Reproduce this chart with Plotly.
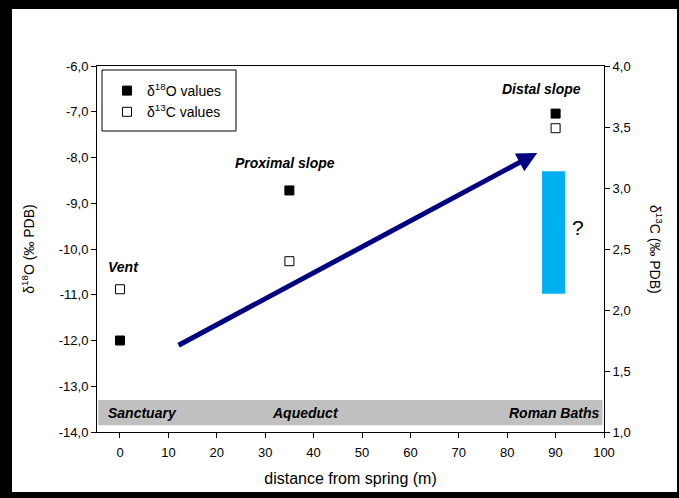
import plotly.graph_objects as go

distance = [0, 35, 90]
d18O = [-12.0, -8.72, -7.04]
d13C = [2.17, 2.40, 3.49]

site_labels = ["Sanctuary", "Aqueduct", "Roman Baths"]
site_x = [4.7, 38.4, 89.6]
zone_labels = ["Vent", "Proximal slope", "Distal slope"]
zone_x = [0.7, 34.1, 87.0]
zone_y = [-10.4, -8.12, -6.5]

y1_ticks = [-14, -13, -12, -11, -10, -9, -8, -7, -6]
y2_ticks = [1.0, 1.5, 2.0, 2.5, 3.0, 3.5, 4.0]
x_ticks = list(range(0, 101, 10))

FONT = "Liberation Sans, Arial, sans-serif"

fig = go.Figure()
fig.add_trace(go.Scatter(
    x=distance, y=d18O, mode="markers", name="δ<sup>18</sup>O values",
    marker=dict(symbol="square", size=9, color="black", line=dict(color="black", width=1)),
    legendgroup="a"))
fig.add_trace(go.Scatter(
    x=distance, y=d13C, mode="markers", name="δ<sup>13</sup>C values", yaxis="y2",
    marker=dict(symbol="square", size=9, color="white", line=dict(color="black", width=1)),
    legendgroup="b"))

L, R, T, B = 97, 75, 66, 66
W, H = 679, 498
pw, ph = W - L - R, H - T - B

def px(x):
    return (x - L) / pw

def py(y):
    return (H - B - y) / ph

shapes = [
    dict(type="rect", xref="paper", yref="paper", x0=px(12), x1=px(677), y0=py(492), y1=py(9),
         fillcolor="white", line=dict(width=0), layer="below"),
    dict(type="rect", xref="x", yref="y", x0=-4.5, x1=99.7, y0=-13.85, y1=-13.3,
         fillcolor="#c0c0c0", line=dict(width=0), layer="below"),
    dict(type="rect", xref="x", yref="y", x0=87.2, x1=92.0, y0=-10.98, y1=-8.3,
         fillcolor="#00b0f0", line=dict(width=0)),
    dict(type="rect", xref="paper", yref="paper", x0=px(102), x1=px(236), y0=py(131), y1=py(70),
         fillcolor="rgba(0,0,0,0)", line=dict(color="black", width=1)),
]

annotations = []
for t, x in zip(site_labels, site_x):
    annotations.append(dict(x=x, y=-13.575, xref="x", yref="y", text=f"<b><i>{t}</i></b>",
                            showarrow=False, xanchor="center",
                            font=dict(size=14, color="black", family=FONT)))
for t, x, y in zip(zone_labels, zone_x, zone_y):
    annotations.append(dict(x=x, y=y, xref="x", yref="y", text=f"<b><i>{t}</i></b>",
                            showarrow=False, xanchor="center",
                            font=dict(size=14, color="black", family=FONT)))
annotations.append(dict(x=94.6, y=-9.54, xref="x", yref="y", text="?", showarrow=False,
                        xanchor="center", font=dict(size=21, color="black", family=FONT)))
annotations.append(dict(x=86.2, y=-7.9, ax=11.8, ay=-12.12, xref="x", yref="y", axref="x", ayref="y",
                        text="", showarrow=True, arrowhead=2, arrowsize=0.8, arrowwidth=5,
                        arrowcolor="#000080", standoff=0, startstandoff=0))
annotations.append(dict(x=px(656), y=0.5, xref="paper", yref="paper", text="δ<sup>13</sup>C (‰ PDB)",
                        textangle=90, showarrow=False, xanchor="center", yanchor="middle",
                        font=dict(size=14, color="black", family=FONT)))

fig.update_layout(
    width=W, height=H,
    margin=dict(l=L, r=R, t=T, b=B),
    paper_bgcolor="black", plot_bgcolor="white",
    font=dict(family=FONT, size=13, color="black"),
    shapes=shapes, annotations=annotations,
    showlegend=True,
    legend=dict(x=px(107), y=py(75), xanchor="left", yanchor="top",
                bgcolor="rgba(0,0,0,0)", borderwidth=0,
                font=dict(size=14, family=FONT), traceorder="grouped", tracegroupgap=0,
                itemwidth=30),
    xaxis=dict(range=[-4.75, 100], tickvals=x_ticks, ticktext=[str(v) for v in x_ticks],
               showgrid=False, zeroline=False, showline=True, linecolor="black", linewidth=1,
               mirror=True, ticks="outside", ticklen=5, tickcolor="black", ticklabelstandoff=3,
               tickfont=dict(size=13, color="black"),
               title=dict(text="distance from spring (m)", font=dict(size=16, color="black"), standoff=14)),
    yaxis=dict(range=[-14, -6], tickvals=y1_ticks,
               ticktext=[f"{v:.1f}".replace(".", ",") for v in y1_ticks],
               showgrid=False, zeroline=False, showline=True, linecolor="black", linewidth=1,
               ticks="outside", ticklen=5, tickcolor="black", tickfont=dict(size=13, color="black"),
               title=dict(text="δ<sup>18</sup>O (‰ PDB)", font=dict(size=14, color="black"), standoff=20)),
    yaxis2=dict(range=[1, 4], overlaying="y", side="right", tickvals=y2_ticks,
                ticktext=[f"{v:.1f}".replace(".", ",") for v in y2_ticks],
                showgrid=False, zeroline=False, showline=True, linecolor="black", linewidth=1,
                ticks="outside", ticklen=5, tickcolor="black", tickfont=dict(size=13, color="black")),
)

fig.write_html("out.html", config={"displayModeBar": False},
               post_script="document.body.style.margin='0';document.body.style.background='black';")
